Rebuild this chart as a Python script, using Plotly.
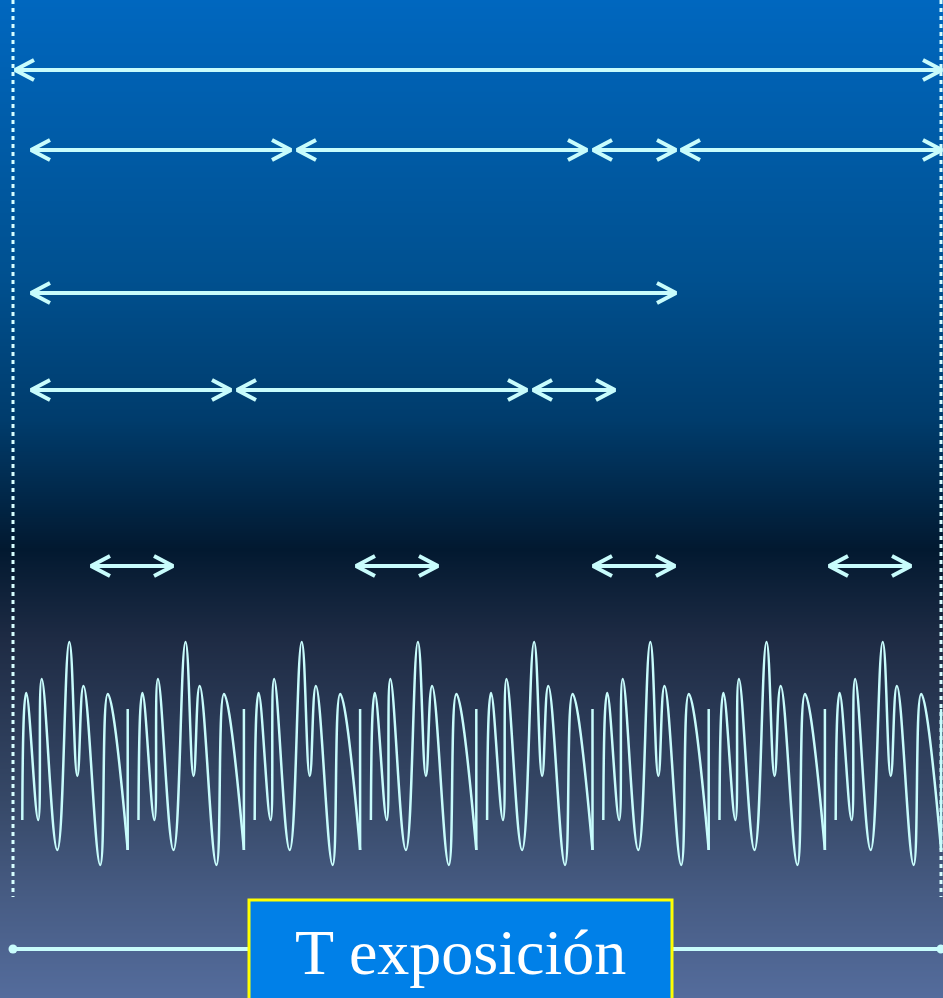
import plotly.graph_objects as go

W, H = 943, 998

# ---- data (pixel-time units) ----
full_window = [(15, 942)]
row2_windows = [(31, 291), (297, 587), (593, 676), (681, 942)]
row3_window = [(31, 676)]
row4_windows = [(31, 231), (237, 527), (533, 615)]
short_windows = [(91, 173), (356, 438), (593, 675), (829, 911)]
arrow_rows_y = [70, 150, 293, 390, 566]

# one period of the signal (x offset, y)
period_x = [0, 3.9, 15.9, 19.4, 35.0, 47.0, 55.0, 61.2, 77.9, 85.5, 105.4]
period_y = [820, 693, 820, 679, 850, 642, 776, 686, 865, 694, 850]
jump_top_y = 709
signal_start = 22.3
signal_period = 116.2
signal_repeats = 8

exposure_label = "T exposición"
exposure_line_y = 949
exposure_ends = [13, 941]
box_x = [249, 672]
box_y = [900, 1010]

ARROW_C = "#C8FCFC"

fig = go.Figure()

# background gradient
fig.add_trace(go.Heatmap(
    x=[0, W], y=[0, H], z=[[0, 0], [1, 1]],
    zsmooth="best", showscale=False, hoverinfo="skip",
    colorscale=[
        [0.00, "#0067BF"],
        [0.28, "#00508F"],
        [0.42, "#003C6C"],
        [0.55, "#021930"],
        [0.64, "#1E2B44"],
        [0.80, "#364867"],
        [0.90, "#475C84"],
        [1.00, "#546C9C"],
    ],
))

# dotted vertical boundaries
for xv in exposure_ends:
    fig.add_trace(go.Scatter(
        x=[xv, xv], y=[0, 897], mode="lines",
        line=dict(color="#D8FFFF", width=3, dash="4px,4px"),
        hoverinfo="skip", showlegend=False))

# arrows
def arrow_pts(x0, x1, y, aw=19, ah=10):
    xs = [x0, x1, None,
          x0 + aw, x0, x0 + aw, None,
          x1 - aw, x1, x1 - aw, None]
    ys = [y, y, None,
          y - ah, y, y + ah, None,
          y - ah, y, y + ah, None]
    return xs, ys

rows = [full_window, row2_windows, row3_window, row4_windows, short_windows]
ax, ay = [], []
for wins, yv in zip(rows, arrow_rows_y):
    for (a, b) in wins:
        xs, ys = arrow_pts(a, b, yv)
        ax += xs
        ay += ys
fig.add_trace(go.Scatter(
    x=ax, y=ay, mode="lines",
    line=dict(color=ARROW_C, width=4),
    hoverinfo="skip", showlegend=False))

# signal
sx, sy, jx, jy = [], [], [], []
for k in range(signal_repeats):
    off = signal_start + k * signal_period
    sx += [off + p for p in period_x] + [None]
    sy += list(period_y) + [None]
    xe = off + period_x[-1]
    jx += [xe, xe, None]
    jy += [period_y[-1], jump_top_y, None]
fig.add_trace(go.Scatter(
    x=sx, y=sy, mode="lines",
    line=dict(color=ARROW_C, width=2.5, shape="spline", smoothing=1.3),
    connectgaps=False, hoverinfo="skip", showlegend=False))
fig.add_trace(go.Scatter(
    x=jx, y=jy, mode="lines",
    line=dict(color=ARROW_C, width=2.5),
    hoverinfo="skip", showlegend=False))

# exposure line
fig.add_trace(go.Scatter(
    x=exposure_ends, y=[exposure_line_y] * 2, mode="lines+markers",
    line=dict(color=ARROW_C, width=4),
    marker=dict(color=ARROW_C, size=9),
    hoverinfo="skip", showlegend=False))

fig.add_shape(type="rect", x0=box_x[0], x1=box_x[1], y0=box_y[0], y1=box_y[1],
              xref="x", yref="y", fillcolor="#0080E8",
              line=dict(color="#FFFF00", width=3), layer="above")
fig.add_annotation(x=(box_x[0] + box_x[1]) / 2, y=952, xref="x", yref="y",
                   text=exposure_label, showarrow=False,
                   font=dict(family="Liberation Serif", size=64, color="white"))

fig.update_layout(
    width=W, height=H, margin=dict(l=0, r=0, t=0, b=0),
    paper_bgcolor="#0A1A30", plot_bgcolor="#0A1A30",
    xaxis=dict(range=[0, W], visible=False, fixedrange=True),
    yaxis=dict(range=[H, 0], visible=False, fixedrange=True),
    showlegend=False,
)

fig.write_html("out.html", config={"displayModeBar": False},
               post_script="document.body.style.margin='0';document.body.style.overflow='hidden';")
